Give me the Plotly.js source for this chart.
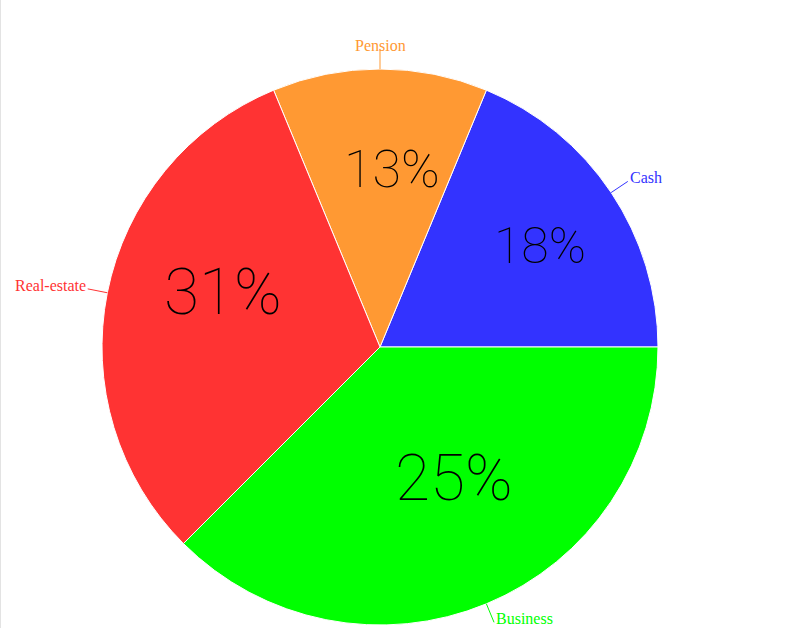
<!DOCTYPE html>
<html>
<head>
<meta charset="utf-8">
<script src="https://cdn.plot.ly/plotly-3.0.1.min.js"></script>
<style>
  html, body { margin: 0; padding: 0; background: #fff; }
  #chart { width: 798px; height: 628px; position: relative; }
  #edge { position: absolute; left: 0; top: 0; width: 1px; height: 628px; background: #e3e3e3; z-index: 5; }
</style>
</head>
<body>
<div id="chart"><div id="edge"></div></div>
<script>
// Portfolio split
const categories = ['Cash', 'Pension', 'Real-estate', 'Business'];
const shares = [18.75, 12.5, 31.25, 37.5];
const handNotes = ['18%', '13%', '31%', '25%'];
const sliceColors = ['#3333ff', '#ff9933', '#ff3333', '#00ff00'];

// Styling of the hand-written notes inside each slice
const noteStyle = [
  { size: 50, dx: 17, dy: -5 },
  { size: 52, dx: 12, dy: -5 },
  { size: 64, dx: 12, dy: -21 },
  { size: 64, dx: 8, dy: -28 }
];

const W = 798, H = 628;
const margin = { l: 102, r: 140, t: 69, b: 3, pad: 0 };
const plotW = W - margin.l - margin.r;
const plotH = H - margin.t - margin.b;
const side = Math.min(plotW, plotH);

const total = shares.reduce((a, b) => a + b, 0);
const mids = [];
let start = 0;
shares.forEach(v => {
  const span = v / total * 360;
  mids.push(start + span / 2);
  start += span;
});

// paper coordinates of a point at angle (deg, ccw from east) and radius k*R
function polar(angleDeg, k) {
  const a = angleDeg * Math.PI / 180;
  return {
    x: 0.5 + k * 0.5 * Math.cos(a) * side / plotW,
    y: 0.5 + k * 0.5 * Math.sin(a) * side / plotH
  };
}

const shapes = [];
const annotations = [];
const leaderK = 1.072;

categories.forEach((name, i) => {
  const a = mids[i];
  const p0 = polar(a, 1.0);
  const p1 = polar(a, leaderK);
  shapes.push({
    type: 'line', xref: 'paper', yref: 'paper',
    x0: p0.x, y0: p0.y, x1: p1.x, y1: p1.y,
    line: { color: sliceColors[i], width: 1 }
  });
  const c = Math.cos(a * Math.PI / 180);
  annotations.push({
    xref: 'paper', yref: 'paper', x: p1.x, y: p1.y,
    text: name, showarrow: false,
    xanchor: c > 0.1 ? 'left' : (c < -0.1 ? 'right' : 'center'),
    yanchor: 'bottom', yshift: -7,
    font: { family: 'Liberation Serif, Times New Roman, serif', size: 16, color: sliceColors[i] }
  });
  const q = polar(a, 0.62);
  annotations.push({
    xref: 'paper', yref: 'paper', x: q.x, y: q.y,
    text: handNotes[i], showarrow: false,
    xanchor: 'center', yanchor: 'middle',
    xshift: noteStyle[i].dx, yshift: -noteStyle[i].dy,
    font: { family: 'Roboto, Lato, DejaVu Sans, sans-serif', weight: 100, size: noteStyle[i].size, color: '#000' }
  });
});

// Counterclockwise pies in Plotly end the first slice at the rotation angle,
// so offset it by the first slice's span to start Cash at 3 o'clock.
const firstSpan = shares[0] / total * 360;

const trace = {
  type: 'pie',
  labels: categories,
  values: shares,
  sort: false,
  direction: 'counterclockwise',
  rotation: 90 - firstSpan,
  textinfo: 'none',
  hoverinfo: 'label+percent',
  marker: { colors: sliceColors, line: { color: '#ffffff', width: 1 } },
  showlegend: false
};

Plotly.newPlot('chart', [trace], {
  width: W, height: H,
  margin: margin,
  paper_bgcolor: '#ffffff',
  plot_bgcolor: '#ffffff',
  showlegend: false,
  shapes: shapes,
  annotations: annotations
}, { displayModeBar: false, staticPlot: true });
</script>
</body>
</html>
